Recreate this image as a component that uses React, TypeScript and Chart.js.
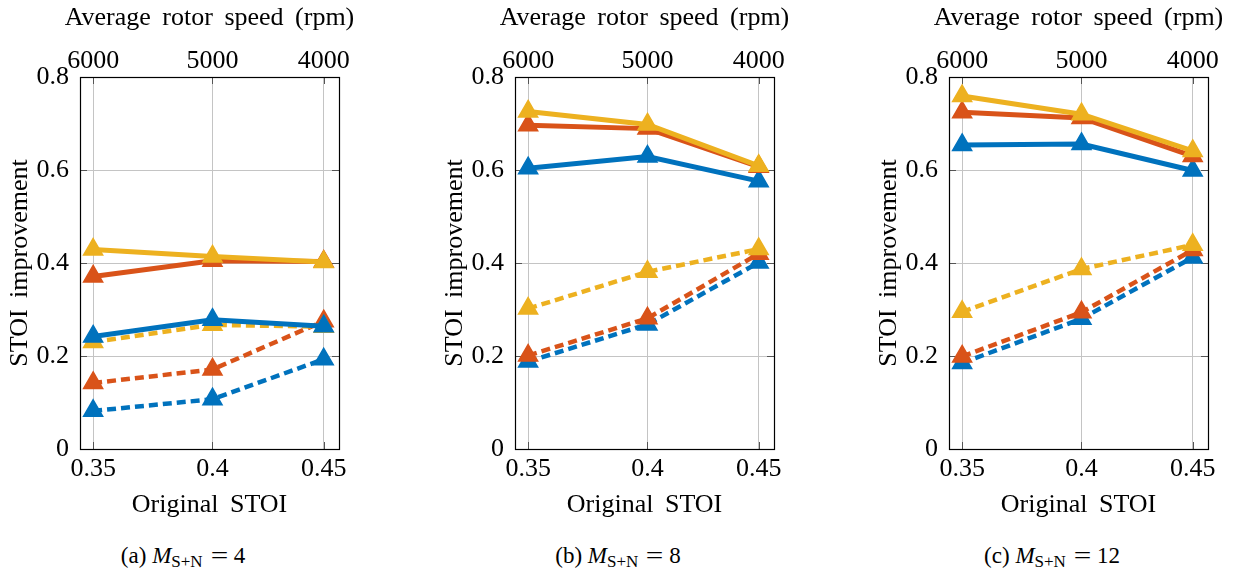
import React, { useEffect, useRef } from "react";
import { Chart, registerables } from "chart.js";

Chart.register(...registerables);

// ---------- data ----------
const originalStoi = [0.35, 0.4, 0.4466];
const stoiTickLabels = ["0.35", "0.4", "0.45"];
const rpmTickLabels = ["6000", "5000", "4000"];
const yTicks = [0, 0.2, 0.4, 0.6, 0.8];

const xTitle = "Original STOI";
const x2Title = "Average rotor speed (rpm)";
const yTitle = "STOI improvement";

const panelLetters = ["a", "b", "c"];
const panelM = [4, 8, 12];

// (a) M = 4
const aBlueSolid = [0.242, 0.278, 0.264];
const aOrangeSolid = [0.371, 0.405, 0.403];
const aYellowSolid = [0.429, 0.414, 0.402];
const aBlueDashed = [0.082, 0.107, 0.193];
const aOrangeDashed = [0.142, 0.171, 0.275];
const aYellowDashed = [0.23, 0.267, 0.263];

// (b) M = 8
const bBlueSolid = [0.604, 0.629, 0.576];
const bOrangeSolid = [0.696, 0.689, 0.607];
const bYellowSolid = [0.726, 0.698, 0.609];
const bBlueDashed = [0.188, 0.268, 0.401];
const bOrangeDashed = [0.201, 0.281, 0.42];
const bYellowDashed = [0.302, 0.381, 0.43];

// (c) M = 12
const cBlueSolid = [0.654, 0.656, 0.599];
const cOrangeSolid = [0.724, 0.712, 0.63];
const cYellowSolid = [0.759, 0.72, 0.641];
const cBlueDashed = [0.185, 0.28, 0.412];
const cOrangeDashed = [0.199, 0.294, 0.428];
const cYellowDashed = [0.295, 0.387, 0.439];

const panels = [
  { blueSolid: aBlueSolid, orangeSolid: aOrangeSolid, yellowSolid: aYellowSolid, blueDashed: aBlueDashed, orangeDashed: aOrangeDashed, yellowDashed: aYellowDashed },
  { blueSolid: bBlueSolid, orangeSolid: bOrangeSolid, yellowSolid: bYellowSolid, blueDashed: bBlueDashed, orangeDashed: bOrangeDashed, yellowDashed: bYellowDashed },
  { blueSolid: cBlueSolid, orangeSolid: cOrangeSolid, yellowSolid: cYellowSolid, blueDashed: cBlueDashed, orangeDashed: cOrangeDashed, yellowDashed: cYellowDashed },
];

// ---------- style ----------
const BLUE = "#0072BD";
const ORANGE = "#D95319";
const YELLOW = "#EDB120";
const FONT = "'Liberation Serif', 'Times New Roman', serif";
const X_MIN = 0.3445;
const X_MAX = 0.453;
const CANVAS_W = 434;
const CANVAS_H = 530;
const PANEL_LEFTS = [0, 435, 869];

const framePlugin = {
  id: "frameTicks",
  beforeDraw(chart: any) {
    (chart.ctx as any).wordSpacing = "5px";
  },
  beforeDatasetsDraw(chart: any) {
    const { ctx, chartArea } = chart;
    const { left, right, top, bottom } = chartArea;
    const xs = chart.scales.x;
    const ys = chart.scales.y;
    ctx.save();
    ctx.strokeStyle = "#555555";
    ctx.lineWidth = 1;
    ctx.beginPath();
    for (const v of originalStoi) {
      const px = Math.round(xs.getPixelForValue(v)) + 0.5;
      ctx.moveTo(px, top);
      ctx.lineTo(px, top + 7);
      ctx.moveTo(px, bottom);
      ctx.lineTo(px, bottom - 7);
    }
    for (const v of yTicks) {
      const py = Math.round(ys.getPixelForValue(v)) + 0.5;
      ctx.moveTo(left, py);
      ctx.lineTo(left + 7, py);
      ctx.moveTo(right, py);
      ctx.lineTo(right - 7, py);
    }
    ctx.stroke();
    ctx.strokeStyle = "#000000";
    ctx.lineWidth = 1.2;
    ctx.strokeRect(left + 0.5, top + 0.5, right - left, bottom - top);
    ctx.restore();
  },
  afterDraw(chart: any) {
    const { ctx, chartArea } = chart;
    ctx.save();
    (ctx as any).wordSpacing = "5px";
    ctx.font = `26px ${FONT}`;
    ctx.fillStyle = "#000";
    ctx.textAlign = "center";
    ctx.textBaseline = "middle";
    ctx.fillText(x2Title, (chartArea.left + chartArea.right) / 2, 18);
    ctx.restore();
  },
};

function makeDataset(values: number[], color: string, dashed: boolean, order: number) {
  return {
    data: values.map((v, i) => ({ x: originalStoi[i], y: v })),
    borderColor: color,
    backgroundColor: color,
    borderWidth: dashed ? 4.5 : 5,
    borderDash: dashed ? [9, 5] : [],
    pointStyle: "triangle",
    pointRadius: 11,
    pointBorderWidth: 1.5,
    pointBackgroundColor: color,
    pointBorderColor: color,
    tension: 0,
    order,
    xAxisID: "x",
    yAxisID: "y",
  };
}

function Panel({ index }: { index: number }) {
  const ref = useRef<HTMLCanvasElement | null>(null);
  useEffect(() => {
    const p = panels[index];
    const chart = new Chart(ref.current as HTMLCanvasElement, {
      type: "line",
      data: {
        datasets: [
          makeDataset(p.yellowSolid, YELLOW, false, 0),
          makeDataset(p.orangeSolid, ORANGE, false, 1),
          makeDataset(p.blueSolid, BLUE, false, 2),
          makeDataset(p.yellowDashed, YELLOW, true, 3),
          makeDataset(p.orangeDashed, ORANGE, true, 4),
          makeDataset(p.blueDashed, BLUE, true, 5),
        ] as any,
      },
      options: {
        animation: false,
        responsive: false,
        devicePixelRatio: 1,
        layout: { padding: { left: 0, right: 95, top: 0, bottom: 0 } },
        plugins: { legend: { display: false }, tooltip: { enabled: false } },
        scales: {
          x: {
            type: "linear",
            position: "bottom",
            min: X_MIN,
            max: X_MAX,
            afterBuildTicks: (s: any) => {
              s.ticks = originalStoi.map((v) => ({ value: v }));
            },
            afterFit: (s: any) => {
              s.height = 81;
            },
            ticks: {
              autoSkip: false,
              maxRotation: 0,
              padding: 5,
              color: "#000",
              font: { family: FONT, size: 26 },
              callback: (_v: any, i: number) => stoiTickLabels[i],
            },
            grid: { color: "#c4c4c4", lineWidth: 1, drawTicks: false },
            border: { display: false },
            title: {
              display: true,
              text: xTitle,
              color: "#000",
              font: { family: FONT, size: 26 },
              padding: { top: 0, bottom: 9 },
            },
          },
          x2: {
            type: "linear",
            position: "top",
            min: X_MIN,
            max: X_MAX,
            afterBuildTicks: (s: any) => {
              s.ticks = originalStoi.map((v) => ({ value: v }));
            },
            afterFit: (s: any) => {
              s.height = 77;
            },
            ticks: {
              autoSkip: false,
              maxRotation: 0,
              padding: 0,
              color: "#000",
              font: { family: FONT, size: 26 },
              callback: (_v: any, i: number) => rpmTickLabels[i],
            },
            grid: { display: false, drawTicks: false },
            border: { display: false },
            title: { display: false },
          },
          y: {
            type: "linear",
            position: "left",
            min: 0,
            max: 0.8,
            afterBuildTicks: (s: any) => {
              s.ticks = yTicks.map((v) => ({ value: v }));
            },
            afterFit: (s: any) => {
              s.width = 80;
            },
            ticks: {
              padding: 11,
              color: "#000",
              font: { family: FONT, size: 26 },
              callback: (v: any) => String(Math.round(Number(v) * 10) / 10),
            },
            grid: { color: "#c4c4c4", lineWidth: 1, drawTicks: false },
            border: { display: false },
            title: {
              display: true,
              text: yTitle,
              color: "#000",
              font: { family: FONT, size: 26 },
              padding: { top: 5, bottom: 0 },
            },
          },
        },
      } as any,
      plugins: [framePlugin],
    });
    return () => chart.destroy();
  }, [index]);

  return (
    <canvas
      ref={ref}
      width={CANVAS_W}
      height={CANVAS_H}
      style={{ position: "absolute", left: PANEL_LEFTS[index], top: 0, width: CANVAS_W, height: CANVAS_H }}
    />
  );
}

function Caption({ index }: { index: number }) {
  const center = PANEL_LEFTS[index] + 183;
  return (
    <div
      style={{
        position: "absolute",
        left: center - 100,
        width: 200,
        top: 544,
        textAlign: "center",
        fontFamily: FONT,
        fontSize: 23,
        lineHeight: "23px",
        color: "#000",
        whiteSpace: "nowrap",
      }}
    >
      ({panelLetters[index]}) <i>M</i>
      <span style={{ fontSize: 17, position: "relative", top: 4 }}>S+N</span>
      <span style={{ margin: "0 8px 0 10px", display: "inline-block", transform: "scaleX(1.35)" }}>=</span>
      {panelM[index]}
    </div>
  );
}

export default function App() {
  return (
    <div style={{ position: "absolute", left: 0, top: 0, width: 1237, height: 576, background: "#fff" }}>
      {[0, 1, 2].map((i) => (
        <Panel key={"p" + i} index={i} />
      ))}
      {[0, 1, 2].map((i) => (
        <Caption key={"c" + i} index={i} />
      ))}
    </div>
  );
}
